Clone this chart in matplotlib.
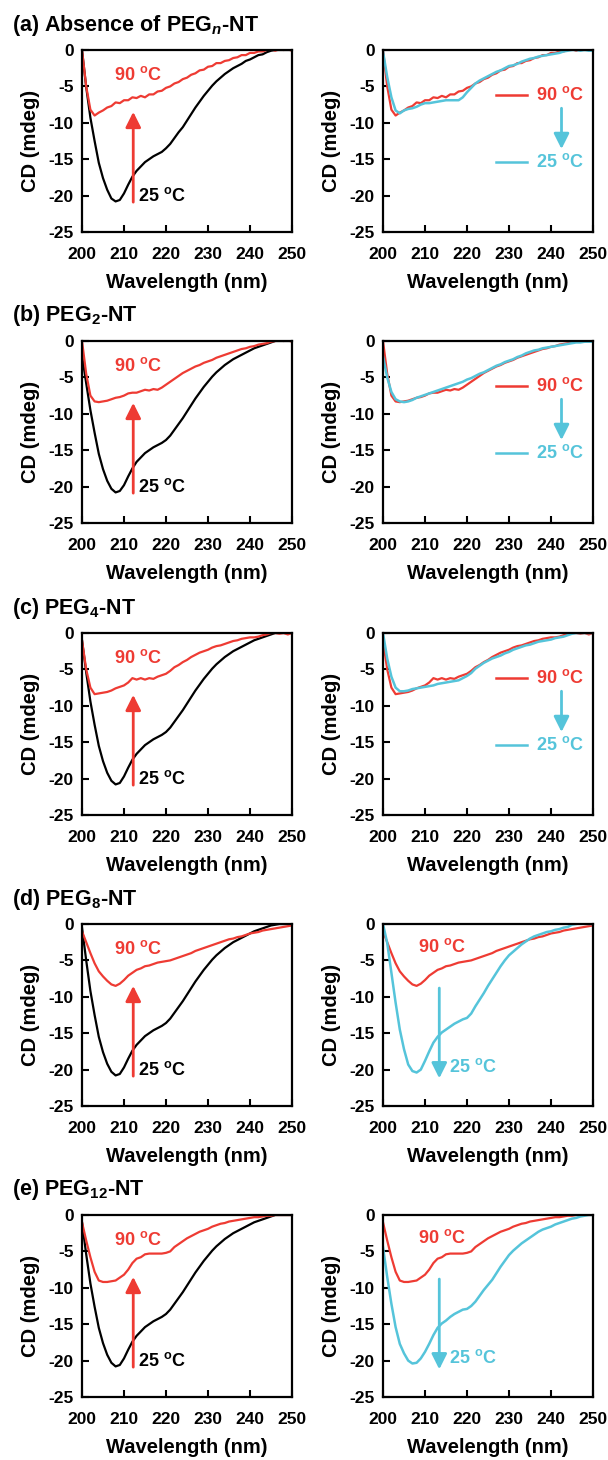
import numpy as np
import matplotlib
matplotlib.use('Agg')
import matplotlib.pyplot as plt

plt.rcParams.update({
    'font.family': ['Liberation Sans', 'DejaVu Sans'],
    'font.weight': 'bold',
    'axes.labelweight': 'bold',
    'axes.unicode_minus': False,
    'mathtext.fontset': 'custom',
    'mathtext.rm': 'Liberation Sans:bold',
    'mathtext.it': 'Liberation Sans:italic:bold',
    'mathtext.bf': 'Liberation Sans:bold',
})

RED = '#EE3B33'
CYAN = '#55C4DA'

# wavelength grid (nm), 1 nm steps
wl = np.arange(200, 251)

# --- (a) absence of PEGn-NT ---
cd25_a = [0.0, -5.1, -9.3, -12.5, -15.5, -17.6, -19.2, -20.4, -20.8, -20.6,
          -19.7, -18.5, -17.4, -16.6, -16.0, -15.4, -15.0, -14.6, -14.3, -14.0,
          -13.5, -12.9, -12.1, -11.3, -10.6, -9.7, -8.8, -7.9, -7.1, -6.3,
          -5.6, -4.9, -4.3, -3.8, -3.3, -2.9, -2.5, -2.2, -1.9, -1.5,
          -1.3, -1.0, -0.7, -0.6, -0.3, -0.1, 0.0, 0.0, 0.0, 0.0, 0.0]
cd90_a = [0.0, -5.0, -8.2, -9.0, -8.6, -8.3, -7.9, -7.7, -7.2, -7.3,
          -6.9, -6.9, -6.5, -6.6, -6.3, -6.5, -6.1, -6.1, -5.7, -5.6,
          -5.2, -5.0, -4.6, -4.4, -4.0, -3.8, -3.4, -3.2, -2.8, -2.7,
          -2.3, -2.2, -1.8, -1.8, -1.5, -1.4, -1.1, -1.0, -0.7, -0.7,
          -0.4, -0.4, -0.2, -0.2, 0.0, 0.1, -0.1, 0.1, 0.0, 0.1, -0.1]
cd25r_a = [-0.2, -3.7, -6.5, -8.3, -8.7, -8.3, -8.1, -8.0, -7.8, -7.5,
           -7.3, -7.3, -7.2, -7.1, -7.0, -6.9, -6.9, -6.9, -6.9, -6.5,
           -5.8, -5.2, -4.6, -4.2, -3.9, -3.6, -3.3, -3.0, -2.8, -2.5,
           -2.2, -2.1, -1.9, -1.6, -1.4, -1.2, -1.1, -0.9, -0.8, -0.7,
           -0.6, -0.5, -0.4, -0.2, -0.1, 0.0, 0.0, -0.1, 0.0, -0.1, -0.1]

# --- (b) PEG2-NT ---
cd25_b = [-2.0, -5.8, -9.5, -12.6, -15.5, -17.6, -19.2, -20.3, -20.8, -20.6,
          -19.8, -18.6, -17.5, -16.6, -16.0, -15.4, -15.0, -14.6, -14.3, -14.0,
          -13.6, -13.0, -12.2, -11.4, -10.6, -9.7, -8.8, -7.9, -7.1, -6.3,
          -5.6, -4.9, -4.3, -3.8, -3.3, -2.9, -2.5, -2.2, -1.9, -1.6,
          -1.3, -1.0, -0.8, -0.6, -0.4, -0.2, 0.0, 0.0, 0.0, 0.0, 0.0]
cd90_b = [0.0, -4.5, -7.5, -8.3, -8.4, -8.3, -8.2, -8.0, -7.8, -7.7,
          -7.5, -7.2, -7.1, -7.1, -6.9, -6.7, -6.8, -6.6, -6.7, -6.4,
          -6.0, -5.6, -5.2, -4.8, -4.4, -4.1, -3.8, -3.5, -3.3, -3.0,
          -2.8, -2.6, -2.3, -2.1, -1.9, -1.7, -1.5, -1.3, -1.1, -1.0,
          -0.8, -0.7, -0.5, -0.4, -0.3, -0.1, 0.0, 0.1, 0.0, 0.1, -0.1]
cd25r_b = [-2.1, -5.0, -7.0, -8.0, -8.3, -8.4, -8.3, -8.1, -7.8, -7.6,
           -7.4, -7.2, -7.0, -6.8, -6.6, -6.4, -6.2, -6.0, -5.8, -5.6,
           -5.3, -5.1, -4.8, -4.5, -4.3, -4.0, -3.7, -3.4, -3.2, -2.9,
           -2.7, -2.5, -2.2, -2.0, -1.7, -1.5, -1.3, -1.2, -1.0, -0.9,
           -0.8, -0.7, -0.6, -0.5, -0.4, -0.3, -0.2, -0.2, -0.1, -0.1, -0.1]

# --- (c) PEG4-NT ---
cd25_c = [-1.0, -5.4, -9.4, -12.6, -15.5, -17.6, -19.2, -20.3, -20.8, -20.6,
          -19.7, -18.5, -17.4, -16.6, -16.0, -15.4, -15.0, -14.6, -14.3, -14.0,
          -13.6, -13.0, -12.2, -11.4, -10.6, -9.7, -8.8, -7.9, -7.1, -6.3,
          -5.6, -4.9, -4.3, -3.8, -3.3, -2.9, -2.5, -2.2, -1.9, -1.6,
          -1.3, -1.0, -0.8, -0.6, -0.4, -0.2, 0.0, 0.0, 0.0, 0.0, 0.0]
cd90_c = [-1.0, -5.0, -7.5, -8.4, -8.3, -8.2, -8.1, -7.9, -7.6, -7.4,
          -7.2, -6.8, -6.2, -6.4, -6.2, -6.4, -6.2, -6.3, -6.0, -5.8,
          -5.6, -5.2, -4.7, -4.4, -4.0, -3.7, -3.3, -3.0, -2.7, -2.5,
          -2.3, -2.0, -1.8, -1.7, -1.5, -1.3, -1.1, -1.0, -0.8, -0.7,
          -0.6, -0.6, -0.5, -0.3, -0.2, 0.0, 0.0, -0.1, 0.0, -0.2, 0.0]
cd25r_c = [0.0, -3.5, -6.0, -7.5, -8.0, -8.0, -7.9, -7.7, -7.6, -7.5,
           -7.4, -7.3, -7.2, -7.0, -6.9, -6.8, -6.7, -6.6, -6.5, -6.2,
           -5.9, -5.5, -4.9, -4.5, -4.1, -3.8, -3.5, -3.3, -3.1, -2.8,
           -2.6, -2.3, -2.1, -1.9, -1.7, -1.6, -1.4, -1.2, -1.1, -1.0,
           -0.9, -0.7, -0.6, -0.5, -0.3, -0.1, 0.0, 0.0, 0.0, 0.0, 0.0]

# --- (d) PEG8-NT ---
cd25_d = [-0.5, -5.0, -9.2, -12.5, -15.5, -17.6, -19.2, -20.3, -20.8, -20.6,
          -19.7, -18.5, -17.4, -16.6, -16.0, -15.4, -15.0, -14.6, -14.3, -14.0,
          -13.6, -13.0, -12.2, -11.4, -10.6, -9.7, -8.8, -7.9, -7.1, -6.3,
          -5.6, -4.9, -4.3, -3.8, -3.3, -2.9, -2.5, -2.2, -1.9, -1.6,
          -1.3, -1.0, -0.8, -0.6, -0.4, -0.2, -0.1, 0.0, 0.0, 0.0, 0.0]
cd90_d = [-1.0, -2.5, -4.0, -5.4, -6.5, -7.2, -7.8, -8.3, -8.5, -8.2,
          -7.7, -7.1, -6.7, -6.3, -6.1, -5.8, -5.7, -5.5, -5.3, -5.2,
          -5.1, -5.0, -4.8, -4.6, -4.4, -4.2, -4.0, -3.7, -3.5, -3.3,
          -3.1, -2.9, -2.7, -2.5, -2.3, -2.1, -2.0, -1.8, -1.7, -1.5,
          -1.3, -1.2, -1.1, -0.9, -0.8, -0.7, -0.6, -0.5, -0.4, -0.3, -0.2]
cd25r_d = [0.0, -2.6, -6.7, -10.8, -14.5, -17.2, -19.3, -20.2, -20.4, -20.0,
           -18.8, -17.5, -16.3, -15.5, -14.9, -14.5, -14.1, -13.7, -13.4, -13.1,
           -12.9, -12.3, -11.3, -10.4, -9.5, -8.5, -7.6, -6.7, -5.8, -5.0,
           -4.3, -3.8, -3.3, -2.8, -2.4, -2.0, -1.7, -1.5, -1.3, -1.1,
           -1.0, -0.8, -0.7, -0.5, -0.4, -0.1, 0.0, 0.1, 0.1, 0.0, 0.0]

# --- (e) PEG12-NT ---
cd25_e = [-1.0, -5.4, -9.4, -12.6, -15.5, -17.6, -19.2, -20.3, -20.8, -20.6,
          -19.7, -18.5, -17.4, -16.6, -16.0, -15.4, -15.0, -14.6, -14.3, -14.0,
          -13.6, -13.0, -12.2, -11.4, -10.6, -9.7, -8.8, -7.9, -7.1, -6.3,
          -5.6, -4.9, -4.3, -3.8, -3.3, -2.9, -2.5, -2.2, -1.9, -1.6,
          -1.3, -1.0, -0.8, -0.6, -0.4, -0.2, 0.0, 0.0, 0.0, 0.0, 0.0]
cd90_e = [-1.0, -3.5, -5.8, -7.8, -9.0, -9.2, -9.2, -9.1, -9.0, -8.6,
          -8.2, -7.5, -6.6, -6.0, -5.8, -5.4, -5.3, -5.3, -5.3, -5.3,
          -5.2, -5.0, -4.4, -4.0, -3.6, -3.2, -2.9, -2.6, -2.3, -2.1,
          -1.9, -1.6, -1.4, -1.2, -1.1, -0.9, -0.8, -0.7, -0.6, -0.5,
          -0.4, -0.3, -0.3, -0.2, -0.1, -0.1, 0.0, 0.0, 0.0, 0.0, 0.0]
cd25r_e = [-4.4, -8.5, -12.2, -15.4, -17.7, -19.0, -20.0, -20.4, -20.3, -19.7,
           -18.8, -17.7, -16.5, -15.5, -14.9, -14.5, -14.0, -13.6, -13.3, -13.0,
           -12.9, -12.5, -11.9, -11.1, -10.3, -9.6, -8.9, -8.0, -7.1, -6.3,
           -5.5, -4.9, -4.4, -3.9, -3.5, -3.1, -2.7, -2.3, -2.0, -1.8,
           -1.6, -1.3, -1.1, -0.9, -0.7, -0.5, -0.4, -0.2, -0.1, 0.0, 0.0]

titles = ['(a) Absence of PEG$_{\\mathit{n}}$-NT', '(b) PEG$_{2}$-NT',
          '(c) PEG$_{4}$-NT', '(d) PEG$_{8}$-NT', '(e) PEG$_{12}$-NT']
heated = [cd25_a, cd25_b, cd25_c, cd25_d, cd25_e]
hot = [cd90_a, cd90_b, cd90_c, cd90_d, cd90_e]
cooled = [cd25r_a, cd25r_b, cd25r_c, cd25r_d, cd25r_e]
refolds = [True, True, True, False, False]

deg = '$^{\\mathrm{o}}$C'
t90 = '90 ' + deg
t25 = '25 ' + deg

W, H = 608, 1460
fig = plt.figure(figsize=(W / 100, H / 100), dpi=100)

ax_w, ax_h = 210, 182
lefts = [82, 383]
tops = [50, 341, 633, 924, 1215]


def style(ax):
    ax.set_xlim(200, 250)
    ax.set_ylim(-25, 0)
    ax.set_xticks(range(200, 251, 10))
    ax.set_yticks(range(-25, 1, 5))
    ax.tick_params(direction='in', length=5, width=1.5, labelsize=12.5)
    ax.tick_params(axis='x', pad=11)
    ax.tick_params(axis='y', pad=6)
    for s in ax.spines.values():
        s.set_linewidth(1.6)
    ax.set_xlabel('Wavelength (nm)', fontsize=14.5, labelpad=8)
    ax.set_ylabel('CD (mdeg)', fontsize=14.5, labelpad=6)


def arrow(ax, x, y0, y1, color):
    ax.annotate('', xy=(x, y1), xytext=(x, y0),
                arrowprops=dict(arrowstyle='-|>', color=color, lw=2,
                                mutation_scale=23, shrinkA=0, shrinkB=0))


for i, top in enumerate(tops):
    bottom = 1 - (top + ax_h) / H
    fig.text(12 / W, 1 - (top - 25) / H, titles[i], fontsize=15.5,
             fontweight='bold', va='center', ha='left')

    # left: before heating (black) vs 90 C (red)
    ax = fig.add_axes([lefts[0] / W, bottom, ax_w / W, ax_h / H])
    ax.plot(wl, heated[i], color='black', lw=1.6)
    ax.plot(wl, hot[i], color=RED, lw=1.6)
    style(ax)
    ax.text(207.5, -3.4, t90, color=RED, fontsize=13, va='center')
    ax.text(213.4, -20.0, t25, color='black', fontsize=13, va='center')
    arrow(ax, 212.2, -20.9, -8.5, RED)

    # right: 90 C (red) vs cooled back to 25 C (cyan)
    ax = fig.add_axes([lefts[1] / W, bottom, ax_w / W, ax_h / H])
    ax.plot(wl, hot[i], color=RED, lw=1.6)
    ax.plot(wl, cooled[i], color=CYAN, lw=1.8)
    style(ax)
    if refolds[i]:
        ax.plot([226.8, 234.4], [-6.2, -6.2], color=RED, lw=1.8)
        ax.plot([226.8, 234.4], [-15.4, -15.4], color=CYAN, lw=1.8)
        ax.text(236.4, -6.2, t90, color=RED, fontsize=13, va='center')
        ax.text(236.4, -15.4, t25, color=CYAN, fontsize=13, va='center')
        arrow(ax, 242.5, -8.0, -13.6, CYAN)
    else:
        ax.text(208.3, -3.1, t90, color=RED, fontsize=13, va='center')
        ax.text(215.8, -19.6, t25, color=CYAN, fontsize=13, va='center')
        arrow(ax, 213.4, -8.8, -21.2, CYAN)

fig.savefig('out.png', dpi=100)
